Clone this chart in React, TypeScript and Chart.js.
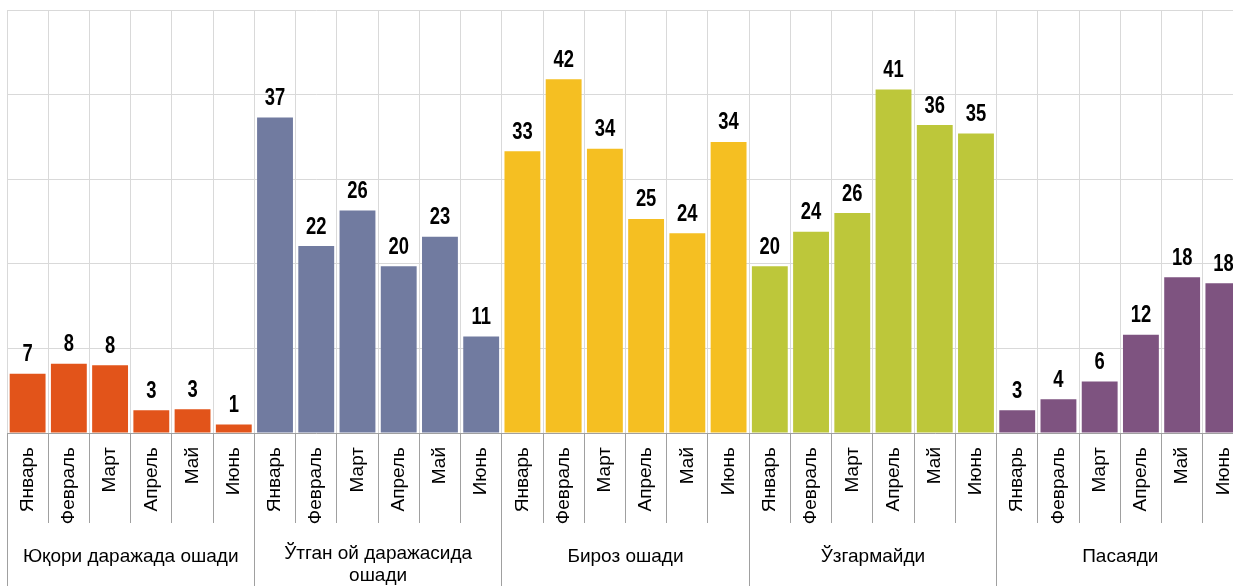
import React, { useEffect, useRef } from "react";
import { Chart, registerables } from "chart.js";

Chart.register(...registerables);

const months = ["Январь", "Февраль", "Март", "Апрель", "Май", "Июнь"];
const groups = [
  "Юқори даражада ошади",
  "Ўтган ой даражасида ошади",
  "Бироз ошади",
  "Ўзгармайди",
  "Пасаяди",
];
const groupLines = [
  ["Юқори даражада ошади"],
  ["Ўтган ой даражасида", "ошади"],
  ["Бироз ошади"],
  ["Ўзгармайди"],
  ["Пасаяди"],
];
const highRise = [7.0, 8.2, 8.0, 2.7, 2.8, 1.0];
const lastMonthRise = [37.3, 22.1, 26.3, 19.7, 23.2, 11.4];
const slightRise = [33.3, 41.8, 33.6, 25.3, 23.6, 34.4];
const noChange = [19.7, 23.8, 26.0, 40.6, 36.4, 35.4];
const decrease = [2.7, 4.0, 6.1, 11.6, 18.4, 17.7];
const groupColors = ["#E2541A", "#717BA0", "#F5BF22", "#BDC73A", "#7E5380"];
const yTicks = [0, 10, 20, 30, 40, 50];

const FONT = '"Liberation Sans", Arial, sans-serif';

export default function App() {
  const ref = useRef<HTMLCanvasElement | null>(null);

  useEffect(() => {
    document.body.style.margin = "0";
    const series = [highRise, lastMonthRise, slightRise, noChange, decrease];
    const labels: string[] = [];
    const values: number[] = [];
    const colors: string[] = [];
    series.forEach((s, gi) => {
      s.forEach((v, mi) => {
        labels.push(months[mi]);
        values.push(v);
        colors.push(groupColors[gi]);
      });
    });

    const valueLabels = {
      id: "valueLabels",
      afterDatasetsDraw(chart: any) {
        const ctx = chart.ctx;
        const meta = chart.getDatasetMeta(0);
        ctx.save();
        ctx.font = `bold 23px ${FONT}`;
        ctx.fillStyle = "#000";
        ctx.textAlign = "center";
        ctx.textBaseline = "alphabetic";
        meta.data.forEach((bar: any, i: number) => {
          ctx.save();
          ctx.translate(bar.x, bar.y - 12.5);
          ctx.scale(0.8, 1);
          ctx.fillText(String(Math.round(values[i])), 0, 0);
          ctx.restore();
        });
        ctx.restore();
      },
    };

    const groupLabels = {
      id: "groupLabels",
      afterDraw(chart: any) {
        const ctx = chart.ctx;
        const xs = chart.scales.x;
        const base = chart.chartArea.bottom;
        const bottom = chart.height;
        const half = (xs.getPixelForValue(1) - xs.getPixelForValue(0)) / 2;
        ctx.save();
        ctx.strokeStyle = "#a0a0a0";
        ctx.lineWidth = 1;
        for (let g = 0; g <= groups.length; g++) {
          const idx = g * months.length;
          const raw = xs.getPixelForValue(Math.min(idx, labels.length - 1)) + (idx >= labels.length ? half : -half);
          const x = Math.round(raw - 0.5) + 0.5;
          ctx.beginPath();
          ctx.moveTo(x, base);
          ctx.lineTo(x, bottom);
          ctx.stroke();
        }
        ctx.font = `19px ${FONT}`;
        ctx.fillStyle = "#000";
        ctx.textAlign = "center";
        ctx.textBaseline = "alphabetic";
        groupLines.forEach((lines, g) => {
          const first = xs.getPixelForValue(g * months.length);
          const last = xs.getPixelForValue(g * months.length + months.length - 1);
          const cx = (first + last) / 2;
          const startY = lines.length > 1 ? 559 : 562;
          lines.forEach((t, li) => {
            ctx.fillText(t, cx, startY + li * 22);
          });
        });
        ctx.restore();
      },
    };

    const chart = new Chart(ref.current as HTMLCanvasElement, {
      type: "bar",
      data: {
        labels,
        datasets: [
          {
            data: values,
            backgroundColor: colors,
            borderWidth: 0,
            barPercentage: 0.87,
            categoryPercentage: 1,
          },
        ],
      },
      options: {
        animation: false,
        responsive: false,
        layout: { padding: { left: 7, top: 10, right: 0, bottom: 0 } },
        plugins: { legend: { display: false }, tooltip: { enabled: false } },
        scales: {
          x: {
            grid: {
              color: "#d9d9d9",
              tickColor: "#a0a0a0",
              tickLength: 90,
              offset: true,
              lineWidth: 1,
            },
            border: { display: true, color: "#a0a0a0", width: 1 },
            ticks: {
              autoSkip: false,
              minRotation: 90,
              maxRotation: 90,
              padding: -76,
              color: "#000",
              font: { family: FONT, size: 19 },
            },
            afterFit: (scale: any) => {
              scale.height = 153;
            },
          },
          y: {
            min: 0,
            max: 50,
            afterBuildTicks: (scale: any) => {
              scale.ticks = yTicks.map((v) => ({ value: v }));
            },
            grid: { color: "#d9d9d9", drawTicks: false, lineWidth: 1 },
            border: { display: false },
            ticks: { display: false },
          },
        },
      },
      plugins: [valueLabels, groupLabels],
    });
    return () => chart.destroy();
  }, []);

  return (
    <div style={{ width: 1233, height: 586, overflow: "hidden" }}>
      <canvas ref={ref} width={1244} height={586} style={{ display: "block" }} />
    </div>
  );
}
